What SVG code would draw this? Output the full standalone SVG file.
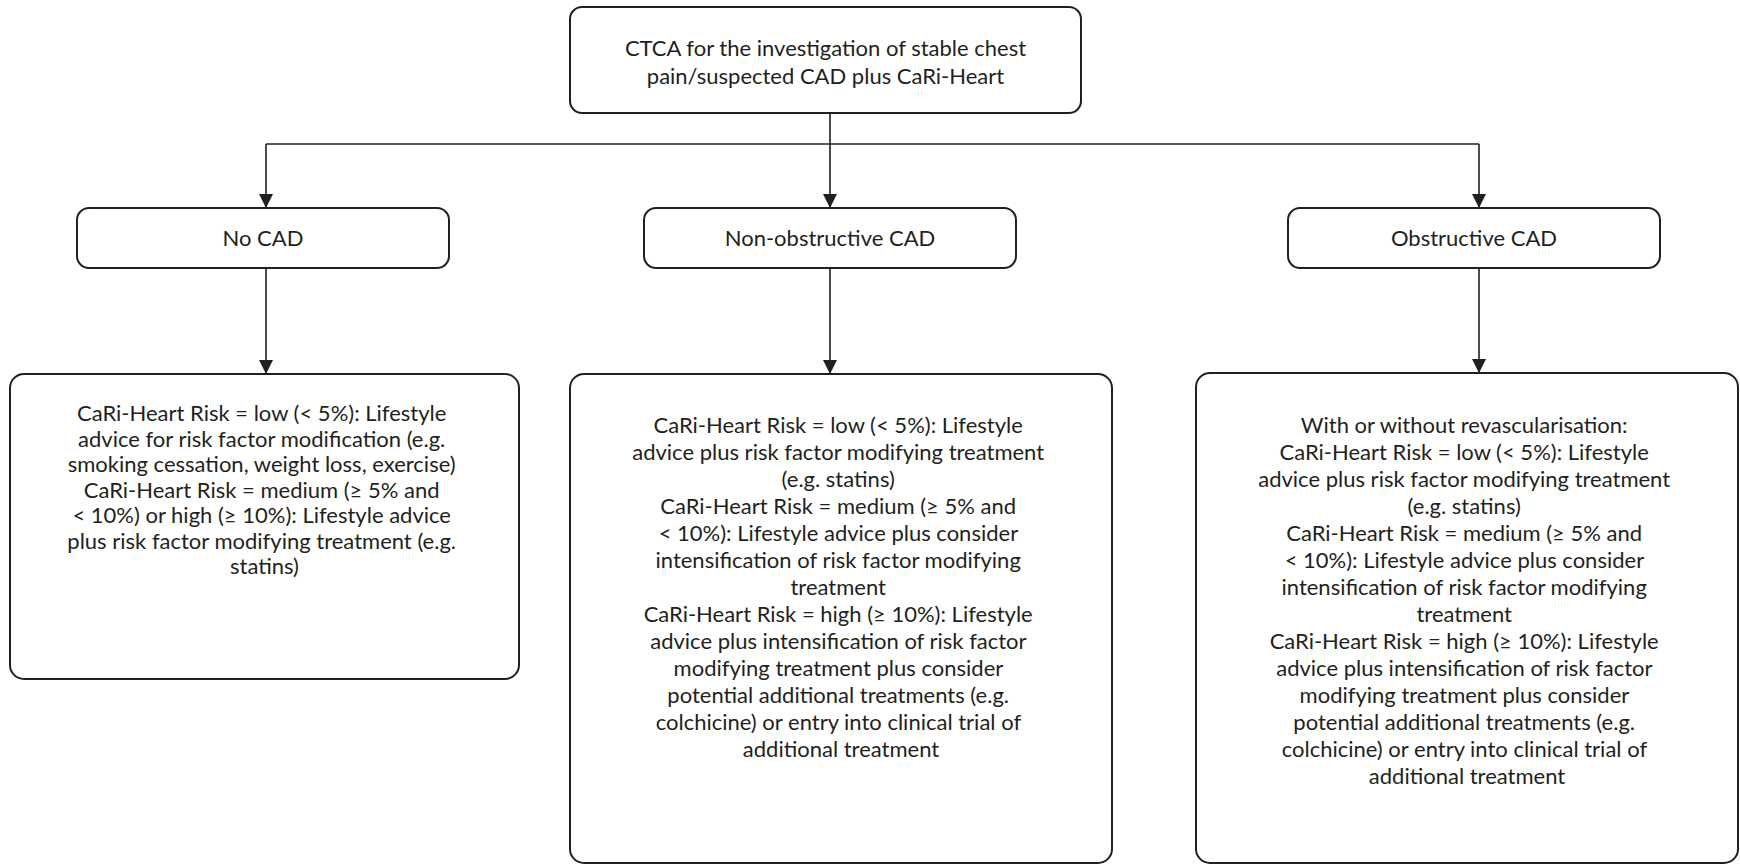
<svg xmlns="http://www.w3.org/2000/svg" width="1740" height="865" viewBox="0 0 1740 865">
<style>
.box{fill:#fff;stroke:#231f20;stroke-width:2}
.t{font-family:Lato,"Liberation Sans",sans-serif;font-size:22px;fill:#231f20;text-anchor:middle}
.c{stroke:#231f20;stroke-width:1.6;fill:none}
</style>
<defs>
<marker id="ah" viewBox="0 0 10 10" refX="10" refY="5" markerWidth="16" markerHeight="14" markerUnits="userSpaceOnUse" orient="auto">
<path d="M0,0 L10,5 L0,10 z" fill="#231f20"/>
</marker>
</defs>
<rect width="1740" height="865" fill="#fff"/>
<g id="connectors">
<path class="c" d="M830,113 V144"/>
<path class="c" d="M266,144 H1479"/>
<path class="c" d="M266,144 V208" marker-end="url(#ah)"/>
<path class="c" d="M830,144 V208" marker-end="url(#ah)"/>
<path class="c" d="M1479,144 V208" marker-end="url(#ah)"/>
<path class="c" d="M266,268 V374" marker-end="url(#ah)"/>
<path class="c" d="M830,268 V374" marker-end="url(#ah)"/>
<path class="c" d="M1479,268 V373" marker-end="url(#ah)"/>
</g>
<g id="top">
<rect class="box" x="570" y="7" width="511" height="106" rx="12"/>
<text class="t" x="825.5"><tspan x="825.5" y="56">CTCA for the investigation of stable chest</tspan><tspan x="825.5" y="84">pain/suspected CAD plus CaRi-Heart</tspan></text>
</g>
<g id="nocad">
<rect class="box" x="77" y="208" width="372" height="60" rx="12"/>
<text class="t" x="263" y="246">No CAD</text>
</g>
<g id="nonobstructive">
<rect class="box" x="644" y="208" width="372" height="60" rx="12"/>
<text class="t" x="830" y="246">Non-obstructive CAD</text>
</g>
<g id="obstructive">
<rect class="box" x="1288" y="208" width="372" height="60" rx="12"/>
<text class="t" x="1474" y="246">Obstructive CAD</text>
</g>
<g id="nocad-advice">
<rect class="box" x="10" y="374" width="509" height="305" rx="14"/>
<text class="t">
<tspan x="264.5" y="421">CaRi-Heart Risk = low (&lt; 5%): Lifestyle</tspan>
<tspan x="264.5" y="446.5">advice for risk factor modification (e.g.</tspan>
<tspan x="264.5" y="472">smoking cessation, weight loss, exercise)</tspan>
<tspan x="264.5" y="497.5">CaRi-Heart Risk = medium (≥ 5% and</tspan>
<tspan x="264.5" y="523">&lt; 10%) or high (≥ 10%): Lifestyle advice</tspan>
<tspan x="264.5" y="548.5">plus risk factor modifying treatment (e.g.</tspan>
<tspan x="264.5" y="574">statins)</tspan>
</text>
</g>
<g id="nonobstructive-advice">
<rect class="box" x="570" y="374" width="542" height="489" rx="14"/>
<text class="t">
<tspan x="841" y="433">CaRi-Heart Risk = low (&lt; 5%): Lifestyle</tspan>
<tspan x="841" y="460">advice plus risk factor modifying treatment</tspan>
<tspan x="841" y="487">(e.g. statins)</tspan>
<tspan x="841" y="514">CaRi-Heart Risk = medium (≥ 5% and</tspan>
<tspan x="841" y="541">&lt; 10%): Lifestyle advice plus consider</tspan>
<tspan x="841" y="568">intensification of risk factor modifying</tspan>
<tspan x="841" y="595">treatment</tspan>
<tspan x="841" y="622">CaRi-Heart Risk = high (≥ 10%): Lifestyle</tspan>
<tspan x="841" y="649">advice plus intensification of risk factor</tspan>
<tspan x="841" y="676">modifying treatment plus consider</tspan>
<tspan x="841" y="703">potential additional treatments (e.g.</tspan>
<tspan x="841" y="730">colchicine) or entry into clinical trial of</tspan>
<tspan x="841" y="757">additional treatment</tspan>
</text>
</g>
<g id="obstructive-advice">
<rect class="box" x="1196" y="373" width="542" height="490" rx="14"/>
<text class="t">
<tspan x="1467" y="433">With or without revascularisation:</tspan>
<tspan x="1467" y="460">CaRi-Heart Risk = low (&lt; 5%): Lifestyle</tspan>
<tspan x="1467" y="487">advice plus risk factor modifying treatment</tspan>
<tspan x="1467" y="514">(e.g. statins)</tspan>
<tspan x="1467" y="541">CaRi-Heart Risk = medium (≥ 5% and</tspan>
<tspan x="1467" y="568">&lt; 10%): Lifestyle advice plus consider</tspan>
<tspan x="1467" y="595">intensification of risk factor modifying</tspan>
<tspan x="1467" y="622">treatment</tspan>
<tspan x="1467" y="649">CaRi-Heart Risk = high (≥ 10%): Lifestyle</tspan>
<tspan x="1467" y="676">advice plus intensification of risk factor</tspan>
<tspan x="1467" y="703">modifying treatment plus consider</tspan>
<tspan x="1467" y="730">potential additional treatments (e.g.</tspan>
<tspan x="1467" y="757">colchicine) or entry into clinical trial of</tspan>
<tspan x="1467" y="784">additional treatment</tspan>
</text>
</g>
</svg>
